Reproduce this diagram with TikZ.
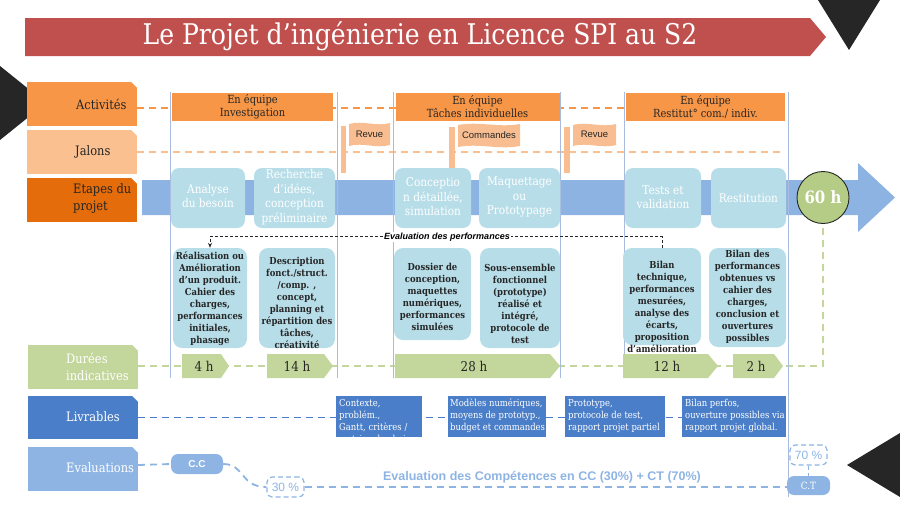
\documentclass[tikz,border=0pt]{standalone}
\usepackage{fontspec}
\setmainfont{DejaVu Serif}[FakeStretch=0.88]
\newfontfamily\arialf{Liberation Sans}
\usetikzlibrary{arrows.meta,backgrounds}
\newcommand\fsz[2]{\fontsize{#1}{#2}\selectfont}
\definecolor{titlered}{HTML}{C0504D}
\definecolor{darktri}{HTML}{262626}
\definecolor{actc}{HTML}{F79646}
\definecolor{jalc}{HTML}{FAC090}
\definecolor{etac}{HTML}{E46C0A}
\definecolor{durc}{HTML}{C3D69B}
\definecolor{circc}{HTML}{B5CC86}
\definecolor{livc}{HTML}{4A7EC8}
\definecolor{evac}{HTML}{8EB4E3}
\definecolor{arrc}{HTML}{8DB3E2}
\definecolor{stgc}{HTML}{B7DDE8}
\definecolor{vlc}{HTML}{A9BCE0}
\definecolor{txtc}{HTML}{262626}
\definecolor{flagc}{HTML}{F8BE91}
\newcommand\drawflag[4]{\fill[flagc] (#1,#2+1) .. controls (#1+0.35*#3,#2-3) and (#1+0.65*#3,#2+4) .. (#1+#3,#2) -- (#1+#3,#2+#4) .. controls (#1+0.65*#3,#2+#4+4) and (#1+0.35*#3,#2+#4-3) .. (#1,#2+#4+1) -- cycle;}
\begin{document}
\begin{tikzpicture}[x=1pt,y=-1pt,
  lblbox/.style={rectangle, minimum width=110pt, minimum height=44pt, inner sep=0pt},
  lbltxt/.style={anchor=west, inner sep=0pt, align=left, font=\fsz{13}{17}},
  actbox/.style={fill=actc, minimum height=28pt, inner sep=0pt, align=center, text=txtc, font=\fsz{11.2}{13}},
  stgbox/.style={fill=stgc, rounded corners=8pt, minimum height=60pt, inner sep=0pt},
  stgtxt/.style={text=white, align=center, font=\fsz{12}{14.5}, inner sep=0pt},
  descbox/.style={fill=stgc, rounded corners=9pt, inner sep=0pt},
  desctxt/.style={text=txtc, align=center, font=\bfseries\fsz{9.6}{12}, inner sep=0pt},
  livbox/.style={fill=livc, minimum height=41pt, inner sep=0pt},
  livtxt/.style={text=white, align=left, anchor=north west, font=\fsz{9.6}{12}, inner sep=0pt},
  durtxt/.style={text=txtc, font=\fsz{13.5}{15}, inner sep=0pt},
  vline/.style={vlc, line width=0.8pt},
  rowdash/.style={line width=1.8pt, dash pattern=on 7pt off 5pt},
  flagtxt/.style={font=\arialf\fsz{9.5}{11}, text=txtc, inner sep=0pt},
  evbox/.style={fill=evac, rounded corners=7pt, inner sep=0pt, text=white},
  pctbox/.style={draw=evac, dash pattern=on 5pt off 3pt, rounded corners=5pt, line width=1.2pt, text=evac, font=\arialf\fsz{12}{14}, minimum width=37pt, minimum height=20pt, inner sep=0pt}
]
\useasboundingbox (0,0) rectangle (900,506);
% decorative triangles
\fill[darktri] (818,0) -- (880,0) -- (849,50) -- cycle;
\fill[darktri] (0,66) -- (46,103) -- (0,140) -- cycle;
\fill[darktri] (900,433) -- (847,465) -- (900,497) -- cycle;
% title banner
\fill[titlered] (25,18) -- (810,18) -- (826,37) -- (810,56) -- (25,56) -- cycle;
\node[text=white, font=\fsz{28.5}{32}, inner sep=0pt] (title) at (420,36) {Le Projet d’ingénierie en Licence SPI au S2};
% big arrow
\fill[arrc] (142,180) -- (858,180) -- (858,163) -- (895,197.5) -- (858,232) -- (858,215) -- (142,215) -- cycle;
% vertical lines
\foreach \xx in {170,337,393,560,624} \draw[vline] (\xx,92) -- (\xx,378);
\draw[vline] (788,92) -- (788,497);
% row labels
\node[lblbox, fill=actc] (lblAct) at (82,104) {};
\node[lblbox, fill=jalc] (lblJal) at (82,152) {};
\node[lblbox, fill=etac] (lblEta) at (82,200) {};
\node[lblbox, fill=durc] (lblDur) at (83,367) {};
\node[lblbox, fill=livc, minimum height=43pt] (lblLiv) at (83,417.5) {};
\node[lblbox, fill=evac] (lblEva) at (83,469) {};
\foreach \n in {lblAct,lblJal,lblEta,lblDur,lblLiv,lblEva}
  \fill[white] (\n.north east) -- ++(-6,0) -- ++(6,6) -- cycle;
\node[lbltxt, text=txtc] (tAct) at (76,104) {Activités};
\node[lbltxt, text=txtc] (tJal) at (75,152) {Jalons};
\node[lbltxt, text=txtc] (tEta) at (73,199) {Etapes du\\projet};
\node[lbltxt, text=white] (tDur) at (66,367) {Durées\\indicatives};
\node[lbltxt, text=white] (tLiv) at (66,417) {Livrables};
\node[lbltxt, text=white] (tEva) at (66,468) {Evaluations};
% activities
\node[actbox, minimum width=161pt] (a1) at (252.5,107) {En équipe\\Investigation};
\node[actbox, minimum width=164pt] (a2) at (477.5,107) {En équipe\\Tâches individuelles};
\node[actbox, minimum width=159pt] (a3) at (705.5,107) {En équipe\\Restitut° com./ indiv.};
% flags (jalons)
\fill[flagc] (341,126) rectangle (346,173);
\drawflag{349}{123}{41}{22}
\node[flagtxt] (fRev1) at (369.5,134.5) {Revue};
\fill[flagc] (449,127) rectangle (455,177);
\drawflag{458}{124}{62}{22}
\node[flagtxt] (fCom) at (489,135.5) {Commandes};
\fill[flagc] (564,127) rectangle (570,173);
\drawflag{573}{124}{43}{21}
\node[flagtxt] (fRev2) at (594.5,134.5) {Revue};
% stages
\node[stgbox, minimum width=74pt] (s1) at (208,198) {};
\node[stgtxt] (s1t) at (208,196) {Analyse\\du besoin};
\node[stgbox, minimum width=81pt] (s2) at (294.5,198) {};
\node[stgtxt] (s2t) at (294.5,197) {Recherche\\d’idées,\\conception\\préliminaire};
\node[stgbox, minimum width=76pt] (s3) at (433,198) {};
\node[stgtxt] (s3t) at (433,197) {Conceptio\\n détaillée,\\simulation};
\node[stgbox, minimum width=81pt] (s4) at (519.5,198) {};
\node[stgtxt] (s4t) at (519.5,197) {Maquettage\\ou\\Prototypage};
\node[stgbox, minimum width=76pt] (s5) at (663,198) {};
\node[stgtxt] (s5t) at (663,197) {Tests et\\validation};
\node[stgbox, minimum width=75pt] (s6) at (748.5,198) {};
\node[stgtxt] (s6t) at (748.5,198) {Restitution};
% 60 h circle
\node[circle, fill=circc, draw=txtc, line width=0.9pt, minimum size=52pt, inner sep=0pt] (h60) at (823,197.5) {};
\node[text=white, font=\bfseries\fsz{17}{20}, inner sep=0pt] (h60t) at (823,197.5) {60 h};
% description boxes
\node[descbox, minimum width=74pt, minimum height=100pt] (d1) at (210,298) {};
\node[desctxt] (d1t) at (210,299) {Réalisation ou\\Amélioration\\d’un produit.\\Cahier des\\charges,\\performances\\initiales,\\phasage};
\node[descbox, minimum width=76pt, minimum height=100pt] (d2) at (297,298) {};
\node[desctxt] (d2t) at (297,303) {Description\\fonct./struct.\\/comp. ,\\concept,\\planning et\\répartition des\\tâches,\\créativité};
\node[descbox, minimum width=77pt, minimum height=92pt] (d3) at (432.5,294) {};
\node[desctxt] (d3t) at (432.5,297) {Dossier de\\conception,\\maquettes\\numériques,\\performances\\simulées};
\node[descbox, minimum width=80pt, minimum height=100pt] (d4) at (520,298) {};
\node[desctxt] (d4t) at (520,304) {Sous-ensemble\\fonctionnel\\(prototype)\\réalisé et\\intégré,\\protocole de\\test};
\node[descbox, minimum width=78pt, minimum height=97pt] (d5) at (662,296.5) {};
\node[desctxt] (d5t) at (662,307) {Bilan\\technique,\\performances\\mesurées,\\analyse des\\écarts,\\proposition\\d’amélioration};
\node[descbox, minimum width=77pt, minimum height=99pt] (d6) at (747.5,297.5) {};
\node[desctxt] (d6t) at (747.5,296.5) {Bilan des\\performances\\obtenues vs\\cahier des\\charges,\\conclusion et\\ouvertures\\possibles};
% evaluation des performances
\draw[txtc, line width=0.8pt, dash pattern=on 3pt off 2pt, -{Stealth[length=5pt,width=4pt]}] (d5.north) -- ++(0,-11) -| (d1.north);
\node[fill=white, inner sep=1pt, font=\arialf\bfseries\itshape\fsz{9}{10}, text=black] (perf) at (447,237) {Evaluation des performances};
% durees
\fill[durc] (182,354) -- (221,354) -- (229,366) -- (221,378) -- (182,378) -- cycle;
\node[durtxt] (h4) at (204,366) {4 h};
\fill[durc] (267,354) -- (324,354) -- (333,366) -- (324,378) -- (267,378) -- cycle;
\node[durtxt] (h14) at (297,366) {14 h};
\fill[durc] (395,354) -- (550,354) -- (560,366) -- (550,378) -- (395,378) -- cycle;
\node[durtxt] (h28) at (474,366) {28 h};
\fill[durc] (623,354) -- (708,354) -- (718,366) -- (708,378) -- (623,378) -- cycle;
\node[durtxt] (h12) at (667,366) {12 h};
\fill[durc] (733,354) -- (774,354) -- (783,366) -- (774,378) -- (733,378) -- cycle;
\node[durtxt] (h2) at (756,366) {2 h};
% livrables
\node[livbox, minimum width=86pt] (l1) at (379,416.5) {};
\begin{scope}
\clip (l1.south west) rectangle (l1.north east);
\node[livtxt] (l1t) at (339,399) {Contexte,\\problém.,\\Gantt, critères /\\matrice de choix};
\end{scope}
\node[livbox, minimum width=98pt] (l2) at (497,416.5) {};
\node[livtxt] (l2t) at (450,399) {Modèles numériques,\\moyens de prototyp.,\\budget et commandes};
\node[livbox, minimum width=100pt] (l3) at (615,416.5) {};
\node[livtxt] (l3t) at (568,399) {Prototype,\\protocole de test,\\rapport projet partiel};
\node[livbox, minimum width=104pt] (l4) at (734,416.5) {};
\node[livtxt] (l4t) at (685,399) {Bilan perfos,\\ouverture possibles via\\rapport projet global.};
% evaluations
\node[evbox, minimum width=52pt, minimum height=20pt, font=\arialf\bfseries\fsz{10}{12}] (cc) at (197,464) {C.C};
\node[pctbox] (p30) at (285.5,487) {30 \%};
\node[evbox, minimum width=43pt, minimum height=19pt, font=\fsz{10}{12}] (ct) at (808.5,485.5) {C.T};
\node[pctbox] (p70) at (808.5,455) {70 \%};
\node[text=evac, font=\arialf\bfseries\fsz{12.5}{14}, inner sep=0pt] (evtxt) at (542,477) {Evaluation des Compétences en CC (30\%) + CT (70\%)};
\draw[evac, line width=1.2pt, dash pattern=on 4pt off 3pt] (p70.south) -- (ct.north);
% row dashed lines (background)
\begin{scope}[on background layer]
\draw[rowdash, actc] ([yshift=-4pt]lblAct.east) -- ([yshift=-4pt]lblAct.east -| a3.west);
\draw[rowdash, jalc] (lblJal.east) -- (lblJal.east -| a3.east);
\draw[rowdash, durc] ([yshift=1pt]lblDur.east) -- ([yshift=1pt]lblDur.east -| h60.south) -- (h60.south);
\draw[rowdash, livc] (lblLiv.east) -- (lblLiv.east -| l4.west);
\draw[rowdash, evac] ([yshift=4pt]lblEva.east) -- (cc.west);
\draw[rowdash, evac] (cc.east) .. controls (245,464) and (240,487) .. (p30.west);
\draw[rowdash, evac] (p30.east) -- (p30.east -| ct.west);
\end{scope}
\end{tikzpicture}
\end{document}
